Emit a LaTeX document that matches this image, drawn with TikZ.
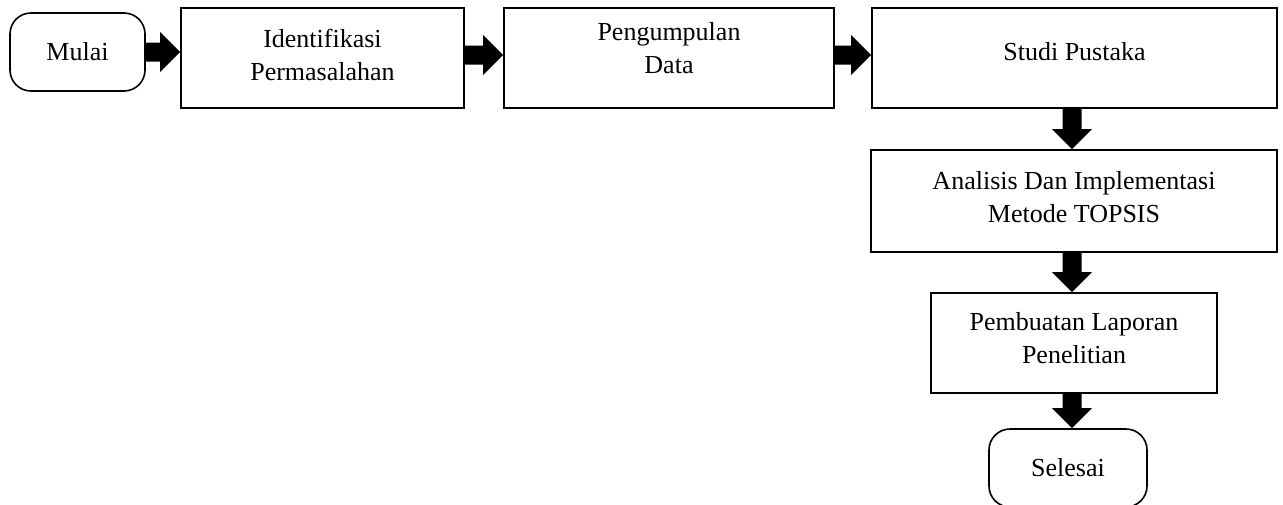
\documentclass[tikz,border=0pt]{standalone}
\usepackage{fontspec}
\setmainfont{Liberation Serif}
\usetikzlibrary{calc}
\tikzset{
  box/.style={draw, line width=1.6pt, rectangle, align=center, inner sep=0pt, text depth=0pt},
  term/.style={draw, line width=1.6pt, rectangle, rounded corners=21pt, align=center, inner sep=0pt},
}
\newcommand\harr[3]{\fill let \p1=([yshift=#3]#1.east), \p2=(#2.west) in
  (\x1,\y1+9.5pt) -- (\x2-20pt,\y1+9.5pt) -- (\x2-20pt,\y1+20pt) -- (\x2,\y1) --
  (\x2-20pt,\y1-20pt) -- (\x2-20pt,\y1-9.5pt) -- (\x1,\y1-9.5pt) -- cycle;}
\newcommand\varr[3]{\fill let \p1=([xshift=#3]#1.south), \p2=(#2.north) in
  (\x1-9.5pt,\y1) -- (\x1-9.5pt,\y2+20pt) -- (\x1-20pt,\y2+20pt) -- (\x1,\y2) --
  (\x1+20pt,\y2+20pt) -- (\x1+9.5pt,\y2+20pt) -- (\x1+9.5pt,\y1) -- cycle;}
\begin{document}
\begin{tikzpicture}[x=1pt, y=-1pt, font=\fontsize{26}{33}\selectfont]
\useasboundingbox (0,0) rectangle (1283,504);
\node[term, minimum width=135pt, minimum height=78pt] (mulai) at (77.5,52) {Mulai};
\node[box, minimum width=283pt, minimum height=100pt, text height=44pt] (ident) at (322.5,58) {Identifikasi\\Permasalahan};
\node[box, minimum width=330pt, minimum height=100pt, text height=30pt] (peng) at (669,58) {Pengumpulan\\Data};
\node[box, minimum width=405pt, minimum height=100pt, text height=4pt] (studi) at (1074.5,58) {Studi Pustaka};
\node[box, minimum width=406pt, minimum height=102pt, text height=42pt] (anal) at (1074,201) {Analisis Dan Implementasi\\Metode TOPSIS};
\node[box, minimum width=286pt, minimum height=100pt, text height=40pt] (lap) at (1074,343) {Pembuatan Laporan\\Penelitian};
\node[term, minimum width=158pt, minimum height=78pt] (selesai) at (1068,468) {Selesai};
\harr{mulai}{ident}{0pt}
\harr{ident}{peng}{3pt}
\harr{peng}{studi}{3pt}
\varr{studi}{anal}{-2.5pt}
\varr{anal}{lap}{-2pt}
\varr{lap}{selesai}{-2pt}
\end{tikzpicture}
\end{document}
